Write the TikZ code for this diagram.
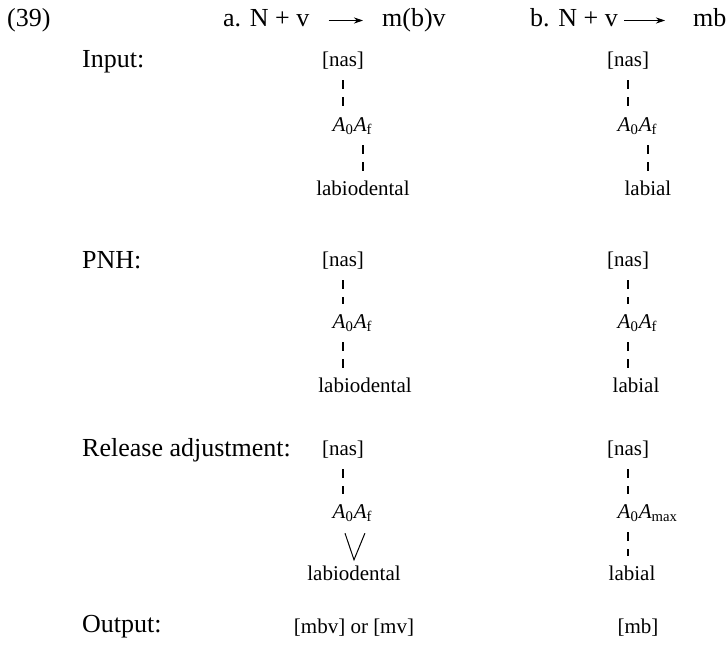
\documentclass[tikz,border=0pt]{standalone}
\usepackage{fontspec}
\setmainfont{Liberation Serif}
\usetikzlibrary{positioning,arrows.meta}

\newcommand{\Asub}[1]{\textit{A}\textsubscript{#1}}

\tikzset{
  big/.style={font=\fontsize{26}{30}\selectfont, inner sep=0pt, text height=19.5pt, text depth=6.5pt},
  lbl/.style={big, anchor=base west},
  seg/.style={font=\fontsize{21}{25}\selectfont, inner sep=0pt, anchor=base, text height=15pt, text depth=5pt},
  assoc/.style={line width=1.2pt, dash pattern=on 9pt off 8pt, shorten <=9pt, shorten >=9pt},
  fuse/.style={line width=1pt, line join=miter},
}

\begin{document}
\begin{tikzpicture}[x=1pt, y=-1pt, >={Stealth[length=9pt,width=6pt]}]
  \useasboundingbox (0,0) rectangle (726,645);
  \def\xa{343} \def\xb{628} % columns a, b
  % header
  \node[lbl] (num) at (7,27) {(39)};
  \node[lbl] (hdA) at (223,27) {a. N + v};
  \node[lbl] (rhA) at (382,27) {m(b)v};
  \node[lbl] (hdB) at (530,27) {b. N + v};
  \node[lbl] (rhB) at (693,27) {mb};
  \draw[->, line width=.9pt, shorten <=19pt, shorten >=19pt] (hdA.east) -- (rhA.west);
  \draw[->, line width=.9pt, shorten <=6pt, shorten >=28pt] (hdB.east) -- (rhB.west);
  % stage labels
  \node[lbl] (inp) at (82,67) {Input:};
  \node[lbl] (pnh) at (82,268) {PNH:};
  \node[lbl] (rel) at (82,456) {Release adjustment:};
  \node[lbl] (out) at (82,632) {Output:};

  % Input
  \node[seg] (nasA1) at (\xa,66) {[nas]};
  \node[seg] (aA1) at (\xa,131) {\Asub{0}};
  \node[seg, anchor=base west] (fA1) at (aA1.base east) {\Asub{f}};
  \node[seg] (plA1) at (fA1 |- 0,195) {labiodental};
  \node[seg] (nasB1) at (\xb,66) {[nas]};
  \node[seg] (aB1) at (\xb,131) {\Asub{0}};
  \node[seg, anchor=base west] (fB1) at (aB1.base east) {\Asub{f}};
  \node[seg] (plB1) at (fB1 |- 0,195) {labial};
  \draw[assoc] (nasA1) -- (aA1);
  \draw[assoc] (fA1) -- (plA1);
  \draw[assoc] (nasB1) -- (aB1);
  \draw[assoc] (fB1) -- (plB1);

  % PNH
  \node[seg] (nasA2) at (\xa,266) {[nas]};
  \node[seg] (aA2) at (\xa,328) {\Asub{0}};
  \node[seg, anchor=base west] (fA2) at (aA2.base east) {\Asub{f}};
  \node[seg] (plA2) at (365,392) {labiodental};
  \node[seg] (nasB2) at (\xb,266) {[nas]};
  \node[seg] (aB2) at (\xb,328) {\Asub{0}};
  \node[seg, anchor=base west] (fB2) at (aB2.base east) {\Asub{f}};
  \node[seg] (plB2) at (636,392) {labial};
  \draw[assoc] (nasA2) -- (aA2);
  \draw[assoc] (aA2) -- (aA2 |- plA2.north);
  \draw[assoc] (nasB2) -- (aB2);
  \draw[assoc] (aB2) -- (aB2 |- plB2.north);

  % Release adjustment
  \node[seg] (nasA3) at (\xa,455) {[nas]};
  \node[seg] (aA3) at (\xa,518) {\Asub{0}};
  \node[seg, anchor=base west] (fA3) at (aA3.base east) {\Asub{f}};
  \node[seg] (plA3) at (354,580) {labiodental};
  \node[seg] (nasB3) at (\xb,455) {[nas]};
  \node[seg] (aB3) at (\xb,518) {\Asub{0}};
  \node[seg, anchor=base west] (mB3) at (aB3.base east) {\Asub{max}};
  \node[seg] (plB3) at (632,580) {labial};
  \coordinate (tipA) at ([yshift=5pt]plA3.north);
  \draw[assoc] (nasA3) -- (aA3);
  \draw[fuse] ([xshift=2pt,yshift=-10pt]aA3.south) -- (tipA) -- ([xshift=2pt,yshift=-10pt]fA3.south);
  \draw[assoc] (nasB3) -- (aB3);
  \draw[assoc] (aB3) -- (aB3 |- plB3.north);

  % Output
  \node[seg] (outA) at (354,633) {[mbv] or [mv]};
  \node[seg] (outB) at (638,633) {[mb]};
\end{tikzpicture}
\end{document}
